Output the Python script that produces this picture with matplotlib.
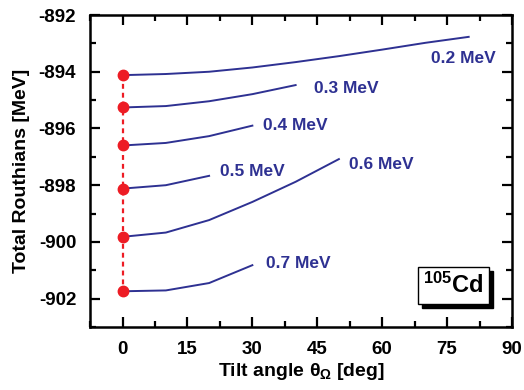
import matplotlib
matplotlib.use("Agg")
import matplotlib.pyplot as plt
from matplotlib.ticker import MultipleLocator
from matplotlib.patches import Rectangle

plt.rcParams['font.family'] = ['Liberation Sans', 'DejaVu Sans']
plt.rcParams['axes.unicode_minus'] = False
plt.rcParams['mathtext.fontset'] = 'custom'
plt.rcParams['mathtext.rm'] = 'Liberation Sans:bold'
plt.rcParams['mathtext.it'] = 'Liberation Sans:bold'
plt.rcParams['mathtext.bf'] = 'Liberation Sans:bold'

navy = '#2e3192'
red = '#ed1c24'

freq_labels = ['0.2 MeV', '0.3 MeV', '0.4 MeV', '0.5 MeV', '0.6 MeV', '0.7 MeV']
angles_02 = [0, 10, 20, 30, 40, 50, 60, 70, 80]
r_02 = [-894.12, -894.08, -894.00, -893.85, -893.66, -893.45, -893.22, -892.98, -892.77]
angles_03 = [0, 10, 20, 30, 40]
r_03 = [-895.26, -895.21, -895.04, -894.79, -894.47]
angles_04 = [0, 10, 20, 30]
r_04 = [-896.60, -896.51, -896.27, -895.90]
angles_05 = [0, 10, 20]
r_05 = [-898.12, -898.00, -897.67]
angles_06 = [0, 10, 20, 30, 40, 50]
r_06 = [-899.82, -899.67, -899.23, -898.59, -897.88, -897.08]
angles_07 = [0, 10, 20, 30]
r_07 = [-901.74, -901.71, -901.45, -900.82]

label_x = [78.7, 51.8, 40.0, 30.1, 59.9, 40.7]
label_y = [-893.55, -894.58, -895.88, -897.51, -897.26, -900.75]

series_x = [angles_02, angles_03, angles_04, angles_05, angles_06, angles_07]
series_y = [r_02, r_03, r_04, r_05, r_06, r_07]

fig = plt.figure(figsize=(5.24, 3.90), dpi=100)
ax = fig.add_axes([0.172, 0.1615, 0.805, 0.80])

for xs, ys in zip(series_x, series_y):
    ax.plot(xs, ys, color=navy, lw=1.4, zorder=2)

x0 = [xs[0] for xs in series_x]
y0 = [ys[0] for ys in series_y]
ax.plot(x0, y0, color=red, lw=1.6, ls=(0, (2.2, 1.8)), zorder=3)
ax.plot(x0, y0, 'o', color=red, ms=7.5, mec=red, zorder=4, ls='none')

for lab, lx, ly in zip(freq_labels, label_x, label_y):
    ax.text(lx, ly, lab, color=navy, fontsize=12.5, fontweight='bold',
            ha='center', va='center')

ax.set_xlim(-7.5, 90)
ax.set_ylim(-903, -892)
ax.xaxis.set_major_locator(MultipleLocator(15))
ax.xaxis.set_minor_locator(MultipleLocator(7.5))
ax.yaxis.set_major_locator(MultipleLocator(2))
ax.yaxis.set_minor_locator(MultipleLocator(1))
ax.tick_params(which='both', direction='in', top=True, right=True, width=1.6)
ax.tick_params(which='major', length=7, labelsize=13.5)
ax.tick_params(axis='x', which='major', pad=10)
ax.tick_params(axis='y', which='major', pad=10)
ax.tick_params(which='minor', length=4)
for lbl in ax.get_xticklabels() + ax.get_yticklabels():
    lbl.set_fontweight('bold')
for s in ax.spines.values():
    s.set_linewidth(1.8)

ax.set_xlabel(r'Tilt angle $\theta_{\Omega}$ [deg]', fontsize=14, fontweight='bold', labelpad=2)
ax.set_ylabel('Total Routhians [MeV]', fontsize=14, fontweight='bold', labelpad=6)

# nucleus box with shadow
bx, by, bw, bh = 0.777, 0.074, 0.168, 0.119
ax.add_patch(Rectangle((bx + 0.0095, by - 0.013), bw, bh, transform=ax.transAxes,
                       facecolor='black', edgecolor='black', zorder=5))
ax.add_patch(Rectangle((bx, by), bw, bh, transform=ax.transAxes,
                       facecolor='white', edgecolor='black', lw=1.0, zorder=6))
ax.text(bx + bw / 2, by + bh / 2, r'$^{105}$Cd', transform=ax.transAxes,
        fontsize=17, fontweight='bold', ha='center', va='center', zorder=7)

fig.savefig('out.png', dpi=100)
